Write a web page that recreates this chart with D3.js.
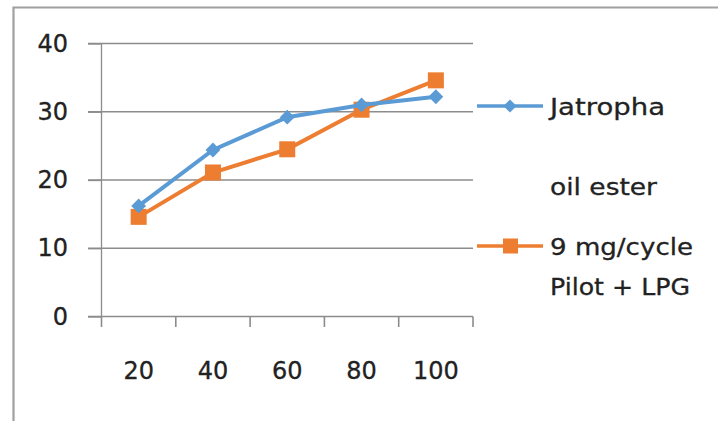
<!DOCTYPE html>
<html><head><meta charset="utf-8">
<script src="https://cdn.jsdelivr.net/npm/d3@7/dist/d3.min.js"></script>
<style>body{margin:0;background:#fff}svg{display:block}text{font-family:"DejaVu Sans","Open Sans",sans-serif;fill:#222}</style>
</head><body><svg id="c" width="718" height="421"></svg>
<script>
const categories = ["20","40","60","80","100"];
const jatropha = [16.2, 24.4, 29.2, 31.0, 32.2];
const pilotLPG = [14.6, 21.1, 24.5, 30.3, 34.6];
const yTicks = [0,10,20,30,40];
const seriesNames = [["Jatropha","oil ester"],["9 mg/cycle","Pilot + LPG"]];

const svg = d3.select("#c");
const FONT = "DejaVu Sans, Open Sans, sans-serif";
// outer frame
svg.append("path").attr("d","M13.5,421 L13.5,7.5 L718,7.5").attr("fill","none").attr("stroke","#a0a0a0").attr("stroke-width",2.2);

const x = d3.scaleBand().domain(categories).range([101.5,473]);
const y = d3.scaleLinear().domain([0,40]).range([316.5,43.5]);

// gridlines
svg.append("g").selectAll("line").data(yTicks.slice(1)).join("line")
 .attr("x1",88).attr("x2",473).attr("y1",d=>y(d)).attr("y2",d=>y(d))
 .attr("stroke","#8c8c8c").attr("stroke-width",1.3);

// y axis
const ya = svg.append("g").attr("transform","translate(101.5,0)")
 .call(d3.axisLeft(y).tickValues(yTicks).tickSize(13.5).tickPadding(20));
ya.select(".domain").attr("stroke","#8c8c8c").attr("stroke-width",1.3).attr("d","M0,43.5V316.5");
ya.selectAll(".tick line").attr("stroke","#8c8c8c").attr("stroke-width",1.3);
ya.selectAll("text").attr("font-size",24).attr("fill","#222").attr("font-family",FONT)
 .attr("stroke","#222").attr("stroke-width",0.3);

// x axis
const xa = svg.append("g").attr("transform","translate(0,316.5)")
 .call(d3.axisBottom(x).tickSize(0).tickPadding(45));
xa.select(".domain").attr("stroke","#8c8c8c").attr("stroke-width",1.3).attr("d","M88,0H473");
xa.selectAll("text").attr("font-size",24).attr("fill","#222").attr("font-family",FONT)
 .attr("stroke","#222").attr("stroke-width",0.3);
// x boundary ticks
const bounds = categories.map(c=>x(c)).concat([x.range()[1]]);
svg.append("g").selectAll("line").data(bounds).join("line")
 .attr("x1",d=>d).attr("x2",d=>d).attr("y1",316.5).attr("y2",327)
 .attr("stroke","#8c8c8c").attr("stroke-width",1.6);

const cx = c => x(c)+x.bandwidth()/2;
const line = d3.line().x((d,i)=>cx(categories[i])).y(d=>y(d));
const blue="#5B9BD5", orange="#ED7D31";

svg.append("path").datum(pilotLPG).attr("d",line).attr("fill","none").attr("stroke",orange).attr("stroke-width",4);
svg.append("g").selectAll("rect").data(pilotLPG).join("rect")
 .attr("x",(d,i)=>cx(categories[i])-8).attr("y",d=>y(d)-8).attr("width",16).attr("height",16).attr("fill",orange);

svg.append("path").datum(jatropha).attr("d",line).attr("fill","none").attr("stroke",blue).attr("stroke-width",4);
const diamond = d3.symbol().type(d3.symbolDiamond2).size(140);
svg.append("g").selectAll("path").data(jatropha).join("path")
 .attr("d",diamond).attr("transform",(d,i)=>`translate(${cx(categories[i])},${y(d)})`).attr("fill",blue);

// legend
const lg = svg.append("g");
lg.append("line").attr("x1",477).attr("x2",543).attr("y1",106).attr("y2",106).attr("stroke",blue).attr("stroke-width",3.5);
lg.append("path").attr("d",d3.symbol().type(d3.symbolDiamond2).size(110)).attr("transform","translate(510,106)").attr("fill",blue);
lg.append("line").attr("x1",477).attr("x2",543).attr("y1",246).attr("y2",246).attr("stroke",orange).attr("stroke-width",3.5);
lg.append("rect").attr("x",503).attr("y",238.5).attr("width",15).attr("height",15).attr("fill",orange);
const lt = [[seriesNames[0][0],115,115],[seriesNames[0][1],195,107],[seriesNames[1][0],255,143],[seriesNames[1][1],295,140]];
lg.selectAll("text").data(lt).join("text").attr("x",550).attr("y",d=>d[1]).attr("font-size",23)
 .attr("stroke","#222").attr("stroke-width",0.3)
 .attr("textLength",d=>d[2]).attr("lengthAdjust","spacingAndGlyphs").text(d=>d[0]);
</script></body></html>
